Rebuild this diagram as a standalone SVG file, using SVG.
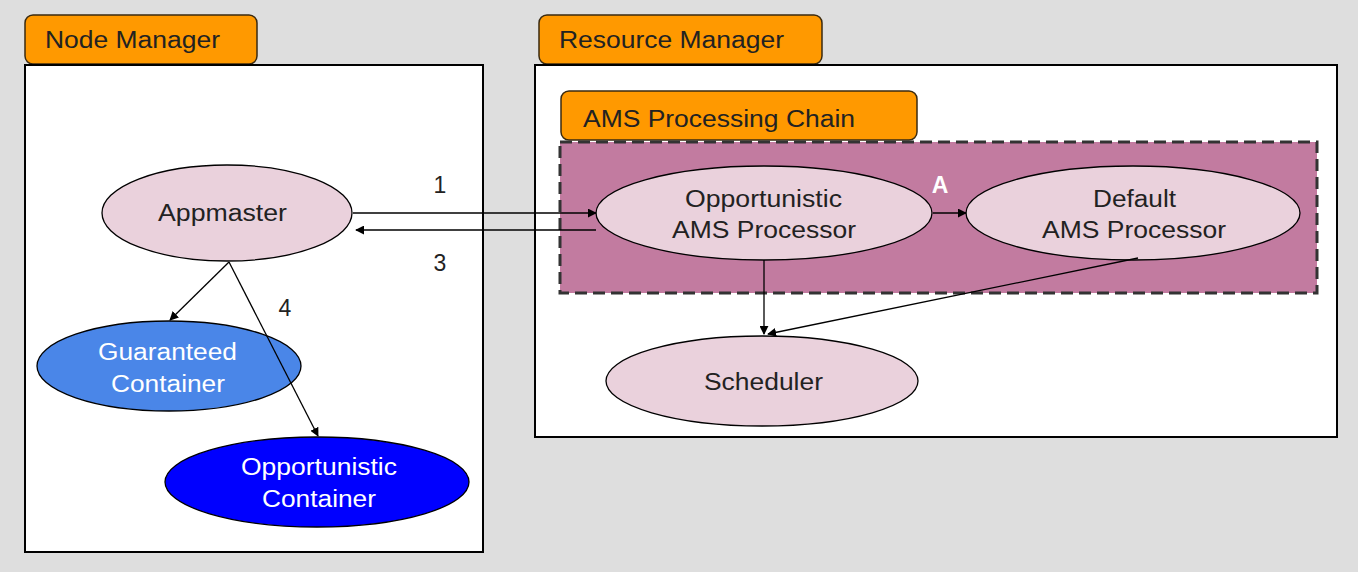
<svg xmlns="http://www.w3.org/2000/svg" width="1358" height="572" viewBox="0 0 1358 572">
<style>
text{font-family:"Liberation Sans",Arial,sans-serif;font-size:23px;fill:#222}
.tab{fill:#ff9900;stroke:#3a2a10;stroke-width:1.5}
.box{fill:#fff;stroke:#000;stroke-width:2}
.pk{fill:#ead1dc;stroke:#000;stroke-width:1.3}
.c{stroke:#000;stroke-width:1.3;fill:none;marker-end:url(#ah)}
.w{fill:#fff}
</style>
<defs>
<marker id="ah" viewBox="0 0 10 10" refX="9" refY="5" markerWidth="9" markerHeight="9" markerUnits="userSpaceOnUse" orient="auto"><path d="M0,0 L10,5 L0,10 z" fill="#000"/></marker>
</defs>
<rect width="1358" height="572" fill="#dedede"/>
<g id="nodemanager">
<rect class="tab" x="25" y="15" width="232" height="49" rx="8"/>
<text x="45" y="48" textLength="175" lengthAdjust="spacingAndGlyphs">Node Manager</text>
<rect class="box" x="25" y="65" width="458" height="487"/>
</g>
<g id="resourcemanager">
<rect class="tab" x="539" y="15" width="283" height="49" rx="8"/>
<text x="559" y="48" textLength="225" lengthAdjust="spacingAndGlyphs">Resource Manager</text>
<rect class="box" x="535" y="65" width="802" height="372"/>
</g>
<g id="chain">
<rect class="tab" x="561" y="91" width="356" height="49" rx="8"/>
<text x="583" y="127" textLength="272" lengthAdjust="spacingAndGlyphs">AMS Processing Chain</text>
<rect x="560" y="142" width="757" height="151" fill="#c27ba0" stroke="#333" stroke-width="3" stroke-dasharray="12,6"/>
</g>
<g id="appmaster"><ellipse class="pk" cx="227" cy="213" rx="125" ry="48"/><text x="158" y="221" textLength="129" lengthAdjust="spacingAndGlyphs">Appmaster</text></g>
<g id="oppams"><ellipse class="pk" cx="764" cy="213" rx="168" ry="47"/><text x="685" y="207" textLength="157" lengthAdjust="spacingAndGlyphs">Opportunistic</text><text x="672" y="238" textLength="184" lengthAdjust="spacingAndGlyphs">AMS Processor</text></g>
<g id="defams"><ellipse class="pk" cx="1133" cy="213" rx="167" ry="47"/><text x="1093" y="207" textLength="83" lengthAdjust="spacingAndGlyphs">Default</text><text x="1042" y="238" textLength="184" lengthAdjust="spacingAndGlyphs">AMS Processor</text></g>
<g id="scheduler"><ellipse class="pk" cx="762" cy="381" rx="156" ry="45"/><text x="704" y="390" textLength="119" lengthAdjust="spacingAndGlyphs">Scheduler</text></g>
<g id="guaranteed"><ellipse cx="169" cy="366" rx="132" ry="45" fill="#4a86e8" stroke="#000" stroke-width="1.3"/><text class="w" x="98" y="360" textLength="139" lengthAdjust="spacingAndGlyphs">Guaranteed</text><text class="w" x="111" y="392" textLength="114" lengthAdjust="spacingAndGlyphs">Container</text></g>
<g id="oppcontainer"><ellipse cx="317" cy="482" rx="152" ry="45" fill="#0000ff" stroke="#000" stroke-width="1.3"/><text class="w" x="241" y="475" textLength="156" lengthAdjust="spacingAndGlyphs">Opportunistic</text><text class="w" x="262" y="507" textLength="114" lengthAdjust="spacingAndGlyphs">Container</text></g>
<g id="connectors">
<line class="c" x1="353" y1="213" x2="596" y2="213"/>
<line class="c" x1="596" y1="230" x2="356" y2="230"/>
<line class="c" x1="229" y1="262" x2="170" y2="320"/>
<line class="c" x1="229" y1="262" x2="318" y2="436"/>
<line class="c" x1="933" y1="213" x2="966" y2="213"/>
<line class="c" x1="764" y1="260" x2="764" y2="334"/>
<line class="c" x1="1138" y1="258" x2="768" y2="334"/>
<text x="440" y="193" text-anchor="middle">1</text>
<text x="440" y="271" text-anchor="middle">3</text>
<text x="285" y="316" text-anchor="middle">4</text>
<text x="940" y="193" text-anchor="middle" style="fill:#fff;font-weight:bold">A</text>
</g>
</svg>
